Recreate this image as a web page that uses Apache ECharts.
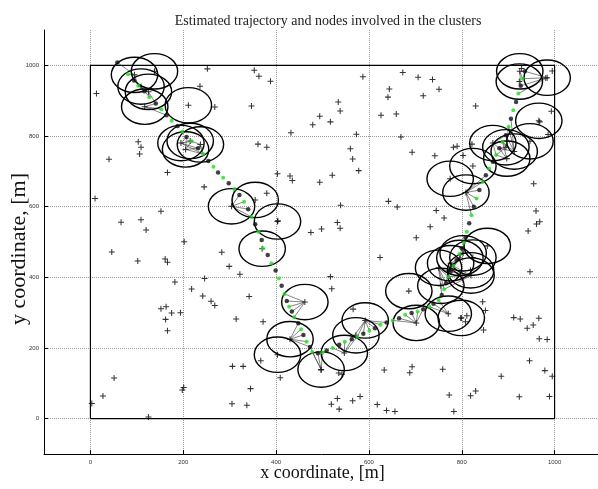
<!DOCTYPE html>
<html><head><meta charset="utf-8">
<script src="https://cdn.jsdelivr.net/npm/echarts@6/dist/echarts.min.js"></script>
<style>html,body{margin:0;padding:0;background:#fff}#c{width:598px;height:489px}</style>
</head><body><div id="c"></div>
<script>
// Sensor nodes (+ markers)
const nodeX = [13,252,353,363,388,236,268,347,494,479,432,103,109,106,40,361,380,166,245,403,430,435,494,10,152,66,109,120,380,404,475,498,202,
587,673,706,737,751,644,641,717,534,538,517,626,659,573,669,830,560,565,578,693,742,782,790,822,803,521,642,661,539,745,762,532,538,732,702,995,981,993,968,986,955,960,961,968,943,929,
46,102,161,166,283,299,322,246,182,218,242,260,268,342,152,163,175,194,162,166,314,372,306,329,51,27,3,125,201,198,345,305,337,367,409,
624,517,520,566,845,851,847,798,811,808,947,912,926,966,941,954,967,984,946,979,995,885,924,989,759,773,783,819,830,693,688,633,618,638,656,581,565,532,536,519,535,542,497];
const nodeY = [920,990,986,969,955,941,882,885,856,832,809,784,768,749,734,777,768,697,656,693,687,674,669,623,587,556,563,534,638,560,527,537,501,
968,980,966,960,932,933,910,914,896,871,840,859,862,805,797,885,764,735,702,754,744,768,771,777,745,689,615,599,604,589,568,555,539,543,512,984,964,870,840,804,665,588,551,557,531,991,
472,446,452,443,471,431,409,397,387,367,347,332,320,346,311,317,299,300,281,249,282,274,148,148,115,64,43,5,88,81,85,42,38,164,116,
456,402,368,310,331,306,251,285,291,274,416,286,282,284,256,265,226,224,164,136,120,120,62,63,140,67,20,65,78,147,130,138,40,23,20,63,51,57,27,41,129,126,138];

// Trajectory points (alternating estimated / true markers)
const trajX = [58,81,94,103,116,127,141,153,164,175,188,198,207,218,232,243,254,265,275,286,298,310,321,331,340,347,355,362,369,372,382,390,399,406,412,418,423,428,434,439,448,454,459,466,473,478,490,500,509,522,536,548,563,575,588,601,613,625,638,651,665,678,692,705,717,730,739,750,757,762,766,771,776,782,789,795,800,805,808,811,816,821,826,832,838,845,852,859,867,874,881,888,895,901,906,911,917,922,927,931,936];
const trajY = [1008,975,957,942,927,910,892,876,859,843,828,812,797,785,765,749,729,713,697,682,666,650,633,614,593,571,550,529,506,482,463,440,419,397,376,353,333,317,303,287,270,253,237,218,203,189,185,187,193,200,209,218,225,232,240,249,256,266,272,278,284,294,299,303,310,317,325,336,350,366,383,402,416,432,449,466,482,498,513,529,553,576,600,623,647,670,689,708,727,746,765,783,802,826,849,873,896,920,942,962,983];

// Cluster-head nodes with their range circles
const circleX = [95,138,109,125,117,211,195,237,205,215,304,355,403,370,462,430,403,497,547,572,592,686,702,771,799,755,750,776,796,820,855,803,824,819,925,984,924,966,947,867,895,913,897,824,775,809];
const circleY = [973,983,940,925,883,887,780,776,762,786,601,619,558,481,330,225,181,139,186,236,278,361,271,297,285,376,427,440,455,405,489,468,456,420,983,965,954,843,785,780,768,756,736,715,679,640];
const circleR = 50;

// Links: cluster head -> trajectory points (index ranges)
const fanCircle = [0,2,3,4,6,8,7,10,14,15,17,18,20,22,23,26,27,28,29,31,45,39,40,41,42,35,34];
const fanFirst  = [0,2,3,6,12,12,13,21,35,40,44,49,52,59,65,68,70,72,69,74,81,89,89,90,88,97,98];
const fanLast   = [3,5,6,8,15,15,15,25,39,44,47,53,58,64,67,72,74,76,73,77,86,92,93,94,91,100,100];

// Field boundary
const fieldX = [0,1000,1000,0,0];
const fieldY = [0,0,1000,1000,0];

const nodes = nodeX.map((x,i)=>[x,nodeY[i]]).concat(circleX.map((x,i)=>[x,circleY[i]]));
const estPts = [], truePts = [];
trajX.forEach((x,i)=>{ (i%2===0?estPts:truePts).push([x,trajY[i]]); });
const fanData = [];
fanCircle.forEach((c,k)=>{
  for (let t=fanFirst[k]; t<=fanLast[k]; t++) {
    fanData.push({coords:[[circleX[c],circleY[c]],[trajX[t],trajY[t]]]});
  }
});

const plus = 'path://M2.9,0h1.2v2.9h2.9v1.2h-2.9v2.9h-1.2v-2.9h-2.9v-1.2h2.9z';
const serif = '"Liberation Serif", "DejaVu Serif", serif';

const axisCommon = {
  type:'value', min:-100, max:1100, splitNumber:6,
  axisLine:{show:true, onZero:false, lineStyle:{color:'#000', width:1}},
  axisTick:{show:true, inside:true, length:4, lineStyle:{color:'#000', width:1}},
  axisLabel:{fontSize:6, color:'#333', margin:5, showMinLabel:false, showMaxLabel:false,
    fontFamily:'Liberation Sans, sans-serif', formatter:function(v){return String(v);}},
  splitLine:{show:true, showMinLine:false, showMaxLine:false, lineStyle:{type:'dotted', color:'#999', width:1}},
  nameLocation:'middle',
  nameMoveOverlap:false
};

const chart = echarts.init(document.getElementById('c'), null, {renderer:'canvas'});
chart.setOption({
  animation:false,
  backgroundColor:'#fff',
  title:{text:'Estimated trajectory and nodes involved in the clusters', left:323, top:9, textAlign:'center',
    textStyle:{fontFamily:serif, fontSize:14, fontWeight:'normal', color:'#222'}},
  grid:{left:44, right:-3, top:30, bottom:35, containLabel:false, outerBoundsMode:'none'},
  xAxis:Object.assign({}, axisCommon, {name:'x coordinate, [m]', nameGap:10,
    nameTextStyle:{fontFamily:serif, fontSize:18, color:'#111'}}),
  yAxis:Object.assign({}, axisCommon, {name:'y coordinate, [m]', nameGap:14,
    nameTextStyle:{fontFamily:serif, fontSize:22, color:'#111', padding:[0,14,0,0]}}),
  series:[
    {type:'scatter', data:nodes, symbol:plus, symbolSize:6, itemStyle:{color:'#000'}, z:2},
    {type:'line', data:fieldX.map((x,i)=>[x,fieldY[i]]), symbol:'none', lineStyle:{color:'#000', width:1.2}, z:3},
    {type:'lines', coordinateSystem:'cartesian2d', data:fanData, lineStyle:{color:'#333', width:0.6, opacity:1}, z:4},
    {type:'custom', data:circleX.map((x,i)=>[x,circleY[i]]), z:5,
      renderItem:function(params, api){
        const c = api.coord([api.value(0), api.value(1)]);
        const s = api.size([circleR, circleR]);
        return {type:'ellipse', shape:{cx:c[0], cy:c[1], rx:s[0], ry:s[1]},
          style:{fill:null, stroke:'#000', lineWidth:1.4}};
      }},
    {type:'scatter', data:estPts, symbol:'circle', symbolSize:4.5, itemStyle:{color:'#111'}, z:6},
    {type:'scatter', data:truePts, symbol:'circle', symbolSize:4, itemStyle:{color:'#1de01d'}, z:7}
  ]
});
</script></body></html>
